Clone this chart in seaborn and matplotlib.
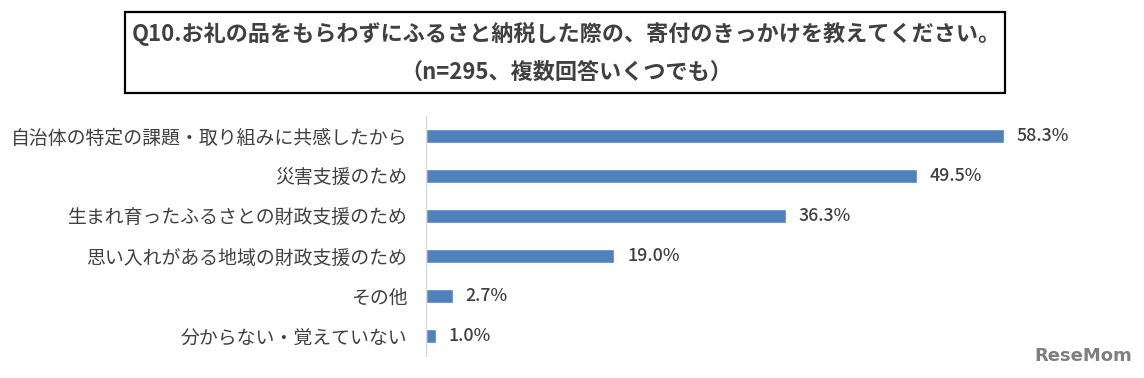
import matplotlib
matplotlib.use("Agg")
import matplotlib.pyplot as plt
import seaborn as sns
import pandas as pd
from matplotlib.patches import Rectangle

categories = [
    "自治体の特定の課題・取り組みに共感したから",
    "災害支援のため",
    "生まれ育ったふるさとの財政支援のため",
    "思い入れがある地域の財政支援のため",
    "その他",
    "分からない・覚えていない",
]
values = [58.3, 49.5, 36.3, 19.0, 2.7, 1.0]
value_labels = ["58.3%", "49.5%", "36.3%", "19.0%", "2.7%", "1.0%"]
title_line1 = "Q10.お礼の品をもらわずにふるさと納税した際の、寄付のきっかけを教えてください。"
title_line2 = "（n=295、複数回答いくつでも）"

sns.set_theme(style="white")
plt.rcParams['font.family'] = ['Noto Sans CJK JP', 'DejaVu Sans']

W, H = 1144, 378
fig = plt.figure(figsize=(W / 100, H / 100), dpi=100)
ax = fig.add_axes([426 / W, 1 - 356 / H, (1100 - 426) / W, (356 - 116) / H])

df = pd.DataFrame({"cat": categories, "val": values})
sns.barplot(data=df, x="val", y="cat", orient="h", color="#4F81BD",
            saturation=1, width=0.35, ax=ax)
ax.set_xlim(0, 68)
ax.set_ylim(5.5, -0.5)
ax.set_xlabel("")
ax.set_ylabel("")
ax.set_xticks([])
for s in ["top", "right", "bottom"]:
    ax.spines[s].set_visible(False)
ax.spines["left"].set_color("#D9D9D9")
ax.spines["left"].set_linewidth(1)
ax.tick_params(axis="y", length=0, pad=13.5, labelsize=13.6, labelcolor="#404040")

for i, (v, lab) in enumerate(zip(values, value_labels)):
    ax.text(v + 1.3, i, lab, va="center", ha="left", fontsize=12.8,
            color="#404040", fontweight="medium")

# Title box
fig.patches.append(Rectangle((125 / W, 1 - 93 / H), (1005 - 125) / W, (93 - 12) / H,
                             transform=fig.transFigure, fill=False,
                             edgecolor="black", linewidth=1.6))
fig.text(566 / W, 1 - 34 / H, title_line1, ha="center", va="center",
         fontsize=15.9, fontweight="bold", color="#404040")
fig.text(566 / W, 1 - 72 / H, title_line2, ha="center", va="center",
         fontsize=15.9, fontweight="bold", color="#404040")

# watermark
fig.text(1083 / W, 1 - 356 / H, "ReseMom", ha="center", va="center",
         fontsize=13, fontweight="bold", color="#7F7F7F", family="DejaVu Sans")

fig.savefig("out.png", dpi=100)
